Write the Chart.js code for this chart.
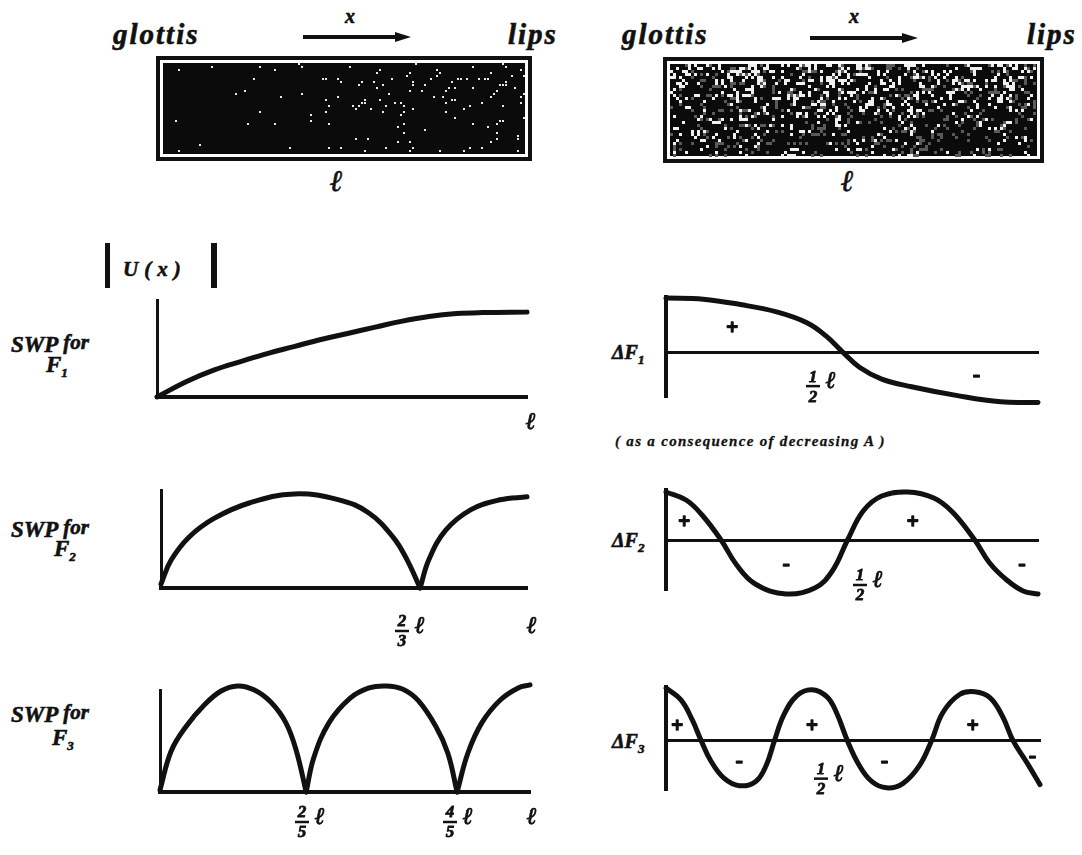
<!DOCTYPE html>
<html>
<head>
<meta charset="utf-8">
<script src="https://cdn.jsdelivr.net/npm/chart.js@4.4.1/dist/chart.umd.min.js"></script>
<style>
  body { margin: 0; background: #fff; }
  #page { position: relative; width: 1082px; height: 855px; overflow: hidden;
          font-family: "Liberation Serif", "DejaVu Serif", serif; font-weight: bold; font-style: italic; color: #111; }
  .t { position: absolute; white-space: nowrap; line-height: 1; -webkit-text-stroke: 0.6px #111; }
  .t sub { font-size: 13px; vertical-align: -5px; }
  canvas { position: absolute; }
  .bar { position: absolute; background: #111; }
</style>
</head>
<body>
<div id="page">
  <!-- tube headers -->
  <div class="t" style="left:113px;top:20px;font-size:29px;letter-spacing:2px">glottis</div>
  <div class="t" style="left:508px;top:20px;font-size:29px;letter-spacing:2px">lips</div>
  <div class="t" style="left:345px;top:6px;font-size:20px">x</div>
  <div class="t" style="left:622px;top:20px;font-size:29px;letter-spacing:2px">glottis</div>
  <div class="t" style="left:1027px;top:20px;font-size:29px;letter-spacing:2px">lips</div>
  <div class="t" style="left:849px;top:6px;font-size:20px">x</div>
  <svg style="position:absolute;left:0;top:0" width="1082" height="60">
    <line x1="303" y1="37" x2="398" y2="37" stroke="#111" stroke-width="4"/>
    <polygon points="395,32 411,37 395,42" fill="#111"/>
    <line x1="810" y1="38" x2="905" y2="38" stroke="#111" stroke-width="4"/>
    <polygon points="902,33 918,38 902,43" fill="#111"/>
  </svg>
  <canvas id="tubeL" width="376" height="105" style="left:156px;top:56px"></canvas>
  <canvas id="tubeR" width="381" height="106" style="left:663px;top:57px"></canvas>
  <div class="t" style="left:330px;top:166px;font-size:30px">ℓ</div>
  <div class="t" style="left:841px;top:166px;font-size:30px">ℓ</div>

  <!-- |U(x)| -->
  <div class="bar" style="left:105px;top:243px;width:5px;height:45px"></div>
  <div class="t" style="left:123px;top:259px;font-size:21px;letter-spacing:6px">U(x)</div>
  <div class="bar" style="left:211px;top:243px;width:6px;height:45px"></div>

  <!-- row labels -->
  <div class="t" style="left:11px;top:333px;font-size:23px">SWP <span style="font-size:21px;position:relative;top:-3px">for</span></div>
  <div class="t" style="left:46px;top:353px;font-size:23px">F<sub>1</sub></div>
  <div class="t" style="left:11px;top:518px;font-size:23px">SWP <span style="font-size:21px;position:relative;top:-3px">for</span></div>
  <div class="t" style="left:54px;top:537px;font-size:23px">F<sub>2</sub></div>
  <div class="t" style="left:11px;top:703px;font-size:23px">SWP <span style="font-size:21px;position:relative;top:-3px">for</span></div>
  <div class="t" style="left:52px;top:726px;font-size:23px">F<sub>3</sub></div>

  <div class="t" style="left:612px;top:342px;font-size:20px">ΔF<sub>1</sub></div>
  <div class="t" style="left:612px;top:530px;font-size:20px">ΔF<sub>2</sub></div>
  <div class="t" style="left:612px;top:731px;font-size:20px">ΔF<sub>3</sub></div>
  <div class="t" style="left:615px;top:434px;font-size:15px;letter-spacing:1.3px;-webkit-text-stroke:0.3px #111">( as a consequence of decreasing A )</div>

  <canvas id="swp1"></canvas>
  <canvas id="swp2"></canvas>
  <canvas id="swp3"></canvas>
  <canvas id="df1"></canvas>
  <canvas id="df2"></canvas>
  <canvas id="df3"></canvas>
</div>

<script>
// x is position along the tube in units of l (0 = glottis, 1 = lips)

// SWP for F1
const swp1X = [0, 0.08, 0.155, 0.23, 0.30, 0.37, 0.44, 0.515, 0.59, 0.66, 0.735, 0.81, 0.88, 1.0];
const swp1Y = [0, 0.16, 0.28, 0.37, 0.45, 0.52, 0.59, 0.655, 0.72, 0.78, 0.83, 0.86, 0.87, 0.875];
const swp1Ticks = [1];
const swp1TickLabels = ['ℓ'];

// SWP for F2 (two arches, node near 2/3 l)
const swp2aX = [0, 0.027, 0.077, 0.145, 0.243, 0.365, 0.486, 0.566, 0.634, 0.672, 0.708];
const swp2aY = [0.04, 0.28, 0.52, 0.71, 0.87, 0.96, 0.90, 0.77, 0.52, 0.29, 0];
const swp2bX = [0.708, 0.732, 0.778, 0.847, 0.926, 1.0];
const swp2bY = [0, 0.29, 0.59, 0.80, 0.90, 0.93];
const swp2Ticks = [2 / 3, 1];
const swp2TickLabels = ['2/3 ℓ', 'ℓ'];

// SWP for F3 (three arches, nodes near 2/5 l and 4/5 l)
const swp3aX = [0, 0.03, 0.07, 0.119, 0.165, 0.21, 0.255, 0.30, 0.34, 0.368, 0.395];
const swp3aY = [0.02, 0.40, 0.64, 0.85, 0.99, 1.04, 1.00, 0.88, 0.68, 0.41, 0];
const swp3bX = [0.395, 0.416, 0.457, 0.514, 0.565, 0.61, 0.655, 0.697, 0.746, 0.778, 0.803];
const swp3bY = [0, 0.34, 0.68, 0.92, 1.02, 1.04, 1.01, 0.90, 0.64, 0.38, 0];
const swp3cX = [0.803, 0.832, 0.87, 0.919, 0.968, 1.0];
const swp3cY = [0, 0.38, 0.68, 0.90, 1.02, 1.05];
const swp3Ticks = [2 / 5, 4 / 5, 1];
const swp3TickLabels = ['2/5 ℓ', '4/5 ℓ', 'ℓ'];

// delta F1
const df1X = [0, 0.1, 0.2, 0.3, 0.38, 0.43, 0.475, 0.52, 0.58, 0.66, 0.78, 0.9, 1.0];
const df1Y = [1.0, 0.98, 0.88, 0.74, 0.54, 0.30, 0, -0.28, -0.5, -0.64, -0.8, -0.92, -0.93];
const df1Signs = [[0.178, 0.43, '+'], [0.835, -0.43, '-']];

// delta F2
const df2X = [0, 0.054, 0.097, 0.148, 0.19, 0.24, 0.323, 0.40, 0.447, 0.488, 0.53, 0.58, 0.65, 0.72, 0.77, 0.83, 0.87, 0.916, 0.96, 1.0];
const df2Y = [0.96, 0.8, 0.5, 0, -0.5, -0.88, -1.08, -0.96, -0.62, 0, 0.58, 0.88, 0.96, 0.84, 0.56, 0, -0.46, -0.8, -1.02, -1.08];
const df2Signs = [[0.049, 0.34, '+'], [0.323, -0.5, '-'], [0.663, 0.34, '+'], [0.957, -0.5, '-']];

// delta F3
const df3X = [0, 0.04, 0.07, 0.094, 0.12, 0.155, 0.196, 0.24, 0.268, 0.29, 0.315, 0.35, 0.39, 0.43, 0.456, 0.485, 0.515, 0.55, 0.59, 0.633, 0.678, 0.71, 0.74, 0.785, 0.826, 0.866, 0.90, 0.928, 0.965, 1.0];
const df3Y = [0.98, 0.76, 0.39, 0, -0.38, -0.70, -0.84, -0.76, -0.46, 0, 0.48, 0.84, 0.95, 0.82, 0.52, 0, -0.44, -0.76, -0.88, -0.80, -0.46, 0, 0.52, 0.86, 0.91, 0.80, 0.45, 0, -0.41, -0.82];
const df3Signs = [[0.03, 0.26, '+'], [0.196, -0.39, '-'], [0.39, 0.26, '+'], [0.584, -0.39, '-'], [0.82, 0.26, '+'], [0.98, -0.3, '-']];

const halfTicks = [1 / 2];
const halfTickLabels = ['1/2 ℓ'];

const SERIF = '"Liberation Serif", "DejaVu Serif", serif';

// fraction tick labels under the axis, and +/- marks inside the plots
const fracLabels = {
  id: 'fracLabels',
  afterDraw(chart, args, opts) {
    const ctx = chart.ctx;
    const xs = chart.scales.x, ys = chart.scales.y;
    const axisY = opts.zeroLine ? ys.getPixelForValue(0) : chart.chartArea.bottom;
    ctx.save();
    ctx.fillStyle = '#111';
    ctx.strokeStyle = '#111';
    ctx.textAlign = 'center';
    ctx.textBaseline = 'middle';
    ctx.lineJoin = 'round';
    (opts.ticks || []).forEach((v, i) => {
      const lab = opts.labels[i];
      const cx = xs.getPixelForValue(v) + opts.dx;
      const by = axisY + opts.dy;
      if (lab.indexOf('/') >= 0) {
        const parts = lab.split(' ')[0].split('/');
        const fx = cx - 8;
        ctx.font = 'bold italic 17px ' + SERIF;
        ctx.lineWidth = 0.8;
        ctx.fillText(parts[0], fx, by - 9);
        ctx.strokeText(parts[0], fx, by - 9);
        ctx.fillText(parts[1], fx, by + 11);
        ctx.strokeText(parts[1], fx, by + 11);
        ctx.lineWidth = 2.5;
        ctx.beginPath();
        ctx.moveTo(fx - 7, by);
        ctx.lineTo(fx + 7, by);
        ctx.stroke();
        ctx.font = 'bold italic 24px ' + SERIF;
        ctx.lineWidth = 0.8;
        ctx.fillText('ℓ', cx + 10, by - 4);
        ctx.strokeText('ℓ', cx + 10, by - 4);
      } else {
        ctx.font = 'bold italic 24px ' + SERIF;
        ctx.lineWidth = 0.8;
        ctx.fillText(lab, cx, by - 4);
        ctx.strokeText(lab, cx, by - 4);
      }
    });
    ctx.font = 'bold 21px ' + SERIF;
    ctx.lineWidth = 1.6;
    (opts.signs || []).forEach(s => {
      const px = xs.getPixelForValue(s[0]), py = ys.getPixelForValue(s[1]);
      ctx.fillText(s[2], px, py);
      ctx.strokeText(s[2], px, py);
    });
    ctx.restore();
  }
};

function curve(xs, ys) {
  return {
    data: xs.map((x, i) => ({ x: x, y: ys[i] })),
    borderColor: '#111',
    borderWidth: 5,
    pointRadius: 0,
    fill: false,
    tension: 0.4,
    borderCapStyle: 'round',
    borderJoinStyle: 'round',
    clip: false
  };
}

function axisStyle(w) {
  return {
    grid: { display: false, drawTicks: false },
    ticks: { display: false },
    border: { display: true, color: '#111', width: w }
  };
}

function makeChart(id, area, datasets, yMin, yMax, zeroAxis, fl) {
  const pad = { left: 20, right: 20, top: 25, bottom: 70 };
  const cv = document.getElementById(id);
  cv.width = area[2] - area[0] + pad.left + pad.right;
  cv.height = area[3] - area[1] + pad.top + pad.bottom;
  cv.style.left = (area[0] - pad.left) + 'px';
  cv.style.top = (area[1] - pad.top) + 'px';
  fl.zeroLine = zeroAxis;
  const xAxis = Object.assign({ type: 'linear', min: 0, max: 1, position: zeroAxis ? { y: 0 } : 'bottom' }, axisStyle(zeroAxis ? 3 : 4));
  const yAxis = Object.assign({ type: 'linear', min: yMin, max: yMax }, axisStyle(zeroAxis ? 4 : 3));
  return new Chart(cv, {
    type: 'line',
    data: { datasets: datasets },
    options: {
      responsive: false,
      animation: false,
      events: [],
      layout: { padding: pad, autoPadding: false },
      plugins: { legend: { display: false }, tooltip: { enabled: false }, fracLabels: fl },
      scales: { x: xAxis, y: yAxis }
    },
    plugins: [fracLabels]
  });
}

makeChart('swp1', [157, 300, 527, 397], [curve(swp1X, swp1Y)], 0, 1, false,
  { ticks: swp1Ticks, labels: swp1TickLabels, dx: 4, dy: 30 });
makeChart('swp2', [161, 490, 527, 588], [curve(swp2aX, swp2aY), curve(swp2bX, swp2bY)], 0, 1, false,
  { ticks: swp2Ticks, labels: swp2TickLabels, dx: 5, dy: 43 });
makeChart('swp3', [160, 690, 530, 792], [curve(swp3aX, swp3aY), curve(swp3bX, swp3bY), curve(swp3cX, swp3cY)], 0, 1, false,
  { ticks: swp3Ticks, labels: swp3TickLabels, dx: 2, dy: 30 });
makeChart('df1', [666, 297, 1038, 397], [curve(df1X, df1Y)], -0.83, 1.02, true,
  { ticks: halfTicks, labels: halfTickLabels, dx: -31, dy: 34, signs: df1Signs });
makeChart('df2', [666, 490, 1038, 590], [curve(df2X, df2Y)], -1, 1, true,
  { ticks: halfTicks, labels: halfTickLabels, dx: 16, dy: 45, signs: df2Signs });
makeChart('df3', [666, 687, 1040, 790], [curve(df3X, df3Y)], -0.92, 1.0, true,
  { ticks: halfTicks, labels: halfTickLabels, dx: -24, dy: 38, signs: df3Signs });

// grainy fill of the two tube drawings (fixed hash, not data)
function speck(i, j) {
  let h = Math.imul(i, 374761393) ^ Math.imul(j, 668265263);
  h = Math.imul(h ^ (h >>> 13), 1274126177);
  return ((h ^ (h >>> 16)) >>> 0) / 4294967296;
}

function drawTube(id, light) {
  const c = document.getElementById(id);
  const g = c.getContext('2d');
  const w = c.width, h = c.height;
  g.fillStyle = '#111';
  g.fillRect(0, 0, w, h);
  g.fillStyle = '#fff';
  g.fillRect(4, 4, w - 8, h - 8);
  g.fillStyle = '#0b0b0b';
  g.fillRect(7, 7, w - 14, h - 14);
  for (let j = 7; j < h - 8; j += 3) {
    for (let i = 7; i < w - 8; i += 3) {
      const r = speck(i, j);
      if (light) {
        const blob = speck(Math.floor(i / 12) + 91, Math.floor(j / 9) + 17);
        const p = (0.05 + 0.22 * Math.pow(1 - (j - 7) / (h - 14), 1.4)) * (0.4 + 1.2 * blob);
        if (r < p) { g.fillStyle = '#f0f0f0'; g.fillRect(i, j, 3, 3); }
        else if (r < p + 0.12) { g.fillStyle = '#5a5a5a'; g.fillRect(i, j, 3, 3); }
      } else {
        const p = 0.01 + 0.07 * Math.pow((i - 7) / (w - 14), 2);
        if (r < p) { g.fillStyle = '#e8e8e8'; g.fillRect(i, j, 2, 2); }
      }
    }
  }
}
drawTube('tubeL', false);
drawTube('tubeR', true);
</script>
</body>
</html>
